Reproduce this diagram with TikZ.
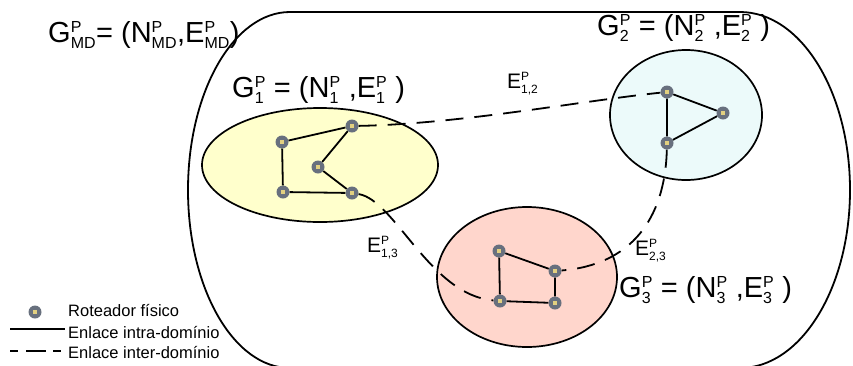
\documentclass[tikz,border=0pt]{standalone}
\usepackage{fontspec}
\setmainfont{Liberation Sans}
\usepackage{amsmath}
\usepackage{xcolor}
\usepackage{tikz}
\usetikzlibrary{shapes.geometric}
\definecolor{ink}{RGB}{0,0,0}
\definecolor{domafill}{RGB}{255,255,204}
\definecolor{dombfill}{RGB}{236,250,250}
\definecolor{domcfill}{RGB}{255,214,204}
\definecolor{rtring}{RGB}{104,112,126}
\definecolor{rtcore}{RGB}{226,208,128}
\DeclareMathSizes{29}{29}{16}{11.5}
\DeclareMathSizes{21}{21}{12}{9}
\newcommand{\pn}[2]{#1$^{\text{P}}_{\text{#2}}$}
\tikzset{
  dom/.style={
    ellipse, draw=ink, line width=1.7pt, fill=#1, inner sep=0pt,
  },
  router/.style={
    circle, fill=rtring, minimum size=13pt, inner sep=0pt,
    path picture={\fill[rtcore] ([shift={(-2.2pt,-2.2pt)}]path picture bounding box.center) rectangle ++(4.4pt,4.4pt);},
  },
  intra/.style={line width=1.8pt, draw=ink},
  inter/.style={line width=1.8pt, draw=ink, dash pattern=on 18pt off 11pt},
  glbl/.style={anchor=base west, font=\fontsize{29}{31}\selectfont, inner sep=0pt},
  elbl/.style={anchor=base west, font=\fontsize{21}{24}\selectfont, inner sep=0pt},
  lgtext/.style={anchor=base west, font=\fontsize{16.5}{18}\selectfont, inner sep=0pt},
}

\begin{document}
\begin{tikzpicture}[x=1pt,y=-1pt]
  \useasboundingbox (0,0) rectangle (853,365);

  % multi-domain boundary
  \draw[line width=1.8pt, draw=ink] (290,12) -- (740,12)
    arc[start angle=-90, end angle=90, x radius=110, y radius=178] -- (290,368)
    arc[start angle=90, end angle=270, x radius=102, y radius=178] -- cycle;
  \node[glbl] (gmd) at (48,42) {\pn{G}{MD}= (\pn{N}{MD},\pn{E}{MD})};

  % domain 1
  \node[dom=domafill, minimum width=236pt, minimum height=114pt] (doma) at (320,165) {};
  \node[glbl] (ga) at (232,97) {\pn{G}{1} = (\pn{N}{1} ,\pn{E}{1} )};
  \node[router] (a1) at (282,142) {};
  \node[router] (a2) at (352,126) {};
  \node[router] (a3) at (318,167) {};
  \node[router] (a4) at (283,192) {};
  \node[router] (a5) at (352,193) {};
  \draw[intra] (a4)--(a1)--(a2)--(a3)--(a5)--(a4);

  % domain 2
  \node[dom=dombfill, minimum width=152pt, minimum height=130pt] (domb) at (686,115) {};
  \node[glbl] (gb) at (597,35) {\pn{G}{2} = (\pn{N}{2} ,\pn{E}{2} )};
  \node[router] (b1) at (667,92) {};
  \node[router] (b2) at (723,113) {};
  \node[router] (b3) at (667,143) {};
  \draw[intra] (b1)--(b2)--(b3)--(b1);

  % domain 3
  \node[dom=domcfill, minimum width=180pt, minimum height=140pt] (domc) at (527,277) {};
  \node[glbl] (gc) at (619,297) {\pn{G}{3} = (\pn{N}{3} ,\pn{E}{3} )};
  \node[router] (c1) at (499,251) {};
  \node[router] (c2) at (555,271) {};
  \node[router] (c3) at (555,303) {};
  \node[router] (c4) at (500,301) {};
  \draw[intra] (c1)--(c2)--(c3)--(c4)--(c1);

  % inter-domain links
  \draw[inter] (a2) .. controls (460,124) and (580,101) .. (b1);
  \draw[inter] (a5) .. controls (395,200) and (430,295) .. (c4);
  \draw[inter] (b3) .. controls (665,220) and (630,265) .. (c2);
  \node[elbl] (eab) at (507,88) {\pn{E}{1,2}};
  \node[elbl] (eac) at (367,252) {\pn{E}{1,3}};
  \node[elbl] (ebc) at (635,255) {\pn{E}{2,3}};

  % legend
  \node[router] (lgr) at (35,312) {};
  \node[lgtext] (lga) at (68,316) {Roteador físico};
  \coordinate (lsa) at (10,329);
  \coordinate (lsb) at (65,329);
  \draw[intra] (lsa) -- (lsb);
  \node[lgtext] (lgb) at (68,338) {Enlace intra-domínio};
  \coordinate (lda) at (10,351);
  \coordinate (ldb) at (65,351);
  \draw[inter, dash pattern=on 8pt off 8pt on 20pt off 7pt] (lda) -- (ldb);
  \node[lgtext] (lgc) at (68,358) {Enlace inter-domínio};
\end{tikzpicture}
\end{document}
